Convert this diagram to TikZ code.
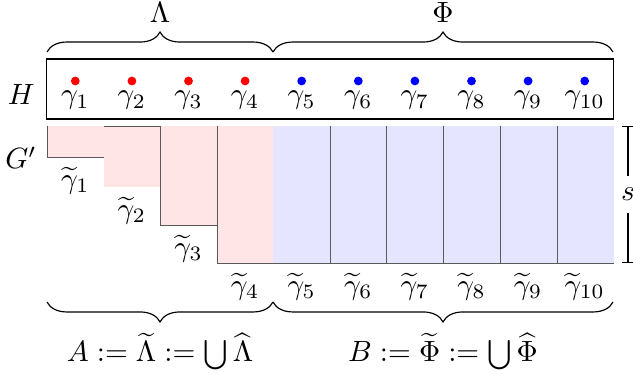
\documentclass[tikz,border=0pt]{standalone}
\usepackage{amsmath,amssymb}
\usetikzlibrary{arrows.meta, decorations.pathreplacing, positioning, calc}
\tikzset{
  brc/.style={decorate, decoration={brace, amplitude=6.8pt}},
  dot/.style={circle, inner sep=0pt, minimum size=3pt},
  colline/.style={black!65, line width=0.3pt},
}

\begin{document}
\begin{tikzpicture}[x=0.012cm, y=-0.012cm]
    \useasboundingbox (0,0) rectangle (633,375);

    % H box with the gammas
    \node (hbox) [rectangle, draw, inner sep=0pt, minimum width=6.792cm, minimum height=0.72cm] at (330,89) {};
    \node (hlab) [anchor=base east] at (45,105) {$H$};
    \foreach \i in {1,...,4}
        \node (d\i) [dot, fill=red] at (47+56.6*\i-28.3,81) {};
    \foreach \i in {5,...,10}
        \node (d\i) [dot, fill=blue] at (47+56.6*\i-28.3,81) {};
    \foreach \i in {1,...,10}
        \node (g\i) [anchor=base] at (47+56.6*\i-28.3,104) {$\gamma_{\i}$};

    % top braces
    \coordinate (lamL) at (47,52);
    \coordinate (lamR) at (273,52);
    \coordinate (phiR) at (613,52);
    \draw [brc] (lamL) -- (lamR);
    \draw [brc] (lamR) -- (phiR);
    \node (lam) [anchor=base] at (160,23) {$\Lambda$};
    \node (phi) [anchor=base] at (443,23) {$\Phi$};

    % G' columns
    \node (glab) [anchor=base east] at (47,169) {$G'$};
    \foreach \x/\b in {47/157, 104/187, 160/225, 217/263}
        \fill [red!10] (\x,126) rectangle ++(56.6,\b-126);
    \fill [blue!10] (273,126) rectangle (614,263);
    \draw [colline] (47,126) -- (47,157) -- (104,157);
    \draw [colline] (104,126) -- (160,126);
    \draw [colline] (160,126) -- (160,225) -- (217,225);
    \draw [colline] (217,126) -- (217,263) -- (614,263);
    \foreach \x in {330,386,443,500,557}
        \draw [colline] (\x,126) -- (\x,263);

    % tilde labels
    \foreach \i/\b in {1/157, 2/187, 3/225, 4/263, 5/263, 6/263, 7/263, 8/263, 9/263, 10/263}
        \node (t\i) [below] at (47+56.6*\i-28.3,\b) {$\widetilde{\gamma}_{\i}$};

    % height s
    \coordinate (stop) at (628,126);
    \coordinate (sbot) at (628,263);
    \draw [{Bar[width=4pt]}-{Bar[width=4pt]}] (stop) -- node (slab) [fill=white, inner xsep=0.5pt, inner ysep=4pt] {$s$} (sbot);

    % bottom braces
    \coordinate (aL) at (47,302);
    \coordinate (aR) at (273,302);
    \coordinate (bR) at (613,302);
    \draw [brc] (aR) -- (aL);
    \draw [brc] (bR) -- (aR);
    \node (alab) [anchor=base] at (160,362) {$A:=\widetilde{\Lambda}:=\bigcup\widehat{\Lambda}$};
    \node (blab) [anchor=base] at (443,362) {$B:=\widetilde{\Phi}:=\bigcup\widehat{\Phi}$};
\end{tikzpicture}
\end{document}
